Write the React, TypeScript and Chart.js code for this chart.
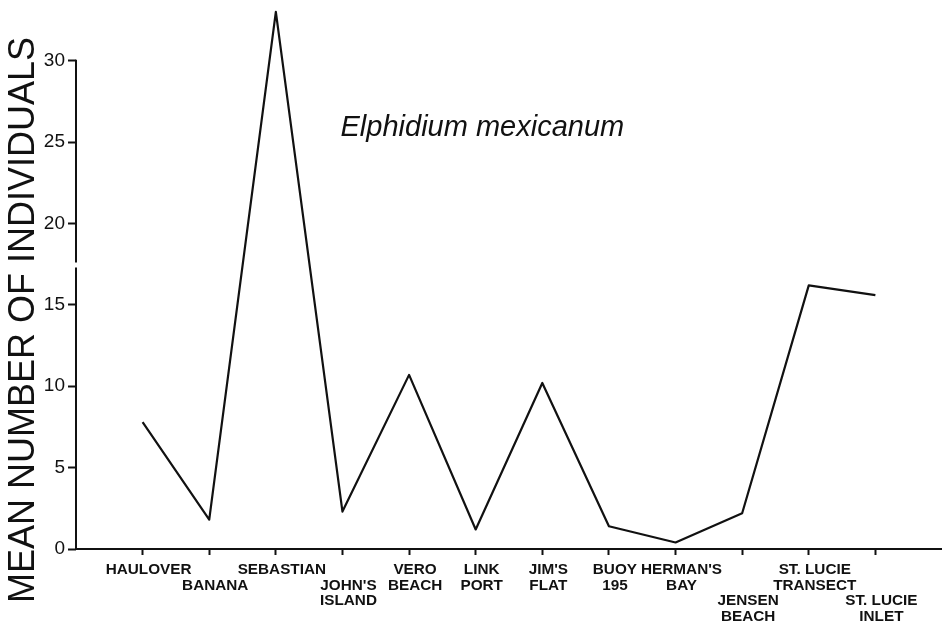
import React, { useEffect, useRef } from 'react';
import { Chart, registerables } from 'chart.js';

Chart.register(...registerables);

const stations: string[][] = [
  ['HAULOVER'],
  ['', 'BANANA'],
  ['SEBASTIAN'],
  ['', "JOHN'S", 'ISLAND'],
  ['VERO', 'BEACH'],
  ['LINK', 'PORT'],
  ["JIM'S", 'FLAT'],
  ['BUOY', '195'],
  ["HERMAN'S", 'BAY'],
  ['', '', 'JENSEN', 'BEACH'],
  ['ST. LUCIE', 'TRANSECT'],
  ['', '', 'ST. LUCIE', 'INLET'],
];
const meanIndividuals = [7.8, 1.8, 33.0, 2.3, 10.7, 1.2, 10.2, 1.4, 0.4, 2.2, 16.2, 15.6];
const yTickValues = [0, 5, 10, 15, 20, 25, 30];
const yAxisTitle = 'MEAN NUMBER OF INDIVIDUALS';
const speciesName = 'Elphidium mexicanum';

const FONT = '"Liberation Sans", Arial, sans-serif';

const decorPlugin = {
  id: 'decor',
  afterDraw(chart: any) {
    const ctx = chart.ctx;
    const ys = chart.scales.y;
    const xs = chart.scales.x;
    const ax = chart.chartArea.left;
    ctx.save();
    // y axis line with a small break
    ctx.strokeStyle = '#111';
    ctx.lineWidth = 2;
    ctx.beginPath();
    ctx.moveTo(ax, ys.getPixelForValue(0) + 1);
    ctx.lineTo(ax, ys.getPixelForValue(17.3));
    ctx.moveTo(ax, ys.getPixelForValue(17.6));
    ctx.lineTo(ax, ys.getPixelForValue(30) - 1);
    ctx.stroke();
    // y axis title
    ctx.fillStyle = '#111';
    ctx.font = `36px ${FONT}`;
    ctx.textAlign = 'center';
    ctx.textBaseline = 'middle';
    ctx.translate(24, 320);
    ctx.rotate(-Math.PI / 2);
    ctx.fillText(yAxisTitle, 0, 0);
    ctx.restore();
    // species name
    ctx.save();
    ctx.fillStyle = '#111';
    ctx.font = `italic 29px ${FONT}`;
    ctx.textAlign = 'center';
    ctx.textBaseline = 'alphabetic';
    ctx.fillText(speciesName, xs.getPixelForValue(5.1), ys.getPixelForValue(25.4));
    ctx.restore();
  },
};

export default function App() {
  const ref = useRef<HTMLCanvasElement>(null);
  useEffect(() => {
    if (!ref.current) return;
    const chart = new Chart(ref.current, {
      type: 'line',
      data: {
        datasets: [
          {
            data: meanIndividuals.map((v, i) => ({ x: i, y: v })),
            borderColor: '#111',
            borderWidth: 2.2,
            borderJoinStyle: 'round',
            pointRadius: 0,
            tension: 0,
            fill: false,
            clip: false as any,
          },
        ],
      },
      options: {
        animation: false,
        responsive: false,
        layout: { padding: 0 },
        plugins: { legend: { display: false }, tooltip: { enabled: false }, title: { display: false } },
        scales: {
          x: {
            type: 'linear',
            min: -1,
            max: 12,
            afterBuildTicks: (s: any) => {
              s.ticks = stations.map((_, i) => ({ value: i }));
            },
            afterFit: (s: any) => {
              s.height = 84;
            },
            border: { display: true, color: '#111', width: 2 },
            grid: { drawOnChartArea: false, drawTicks: true, tickLength: 6, tickWidth: 2, tickColor: '#111' },
            ticks: {
              autoSkip: false,
              maxRotation: 0,
              minRotation: 0,
              padding: 7,
              labelOffset: 6,
              color: '#111',
              font: { family: FONT, size: 15.3, weight: 'bold', lineHeight: 1.02 },
              callback: (v: any) => stations[Number(v)] ?? '',
            },
          },
          y: {
            type: 'linear',
            min: 0,
            max: 32.85,
            afterBuildTicks: (s: any) => {
              s.ticks = yTickValues.map((v) => ({ value: v }));
            },
            afterFit: (s: any) => {
              s.width = 76;
            },
            border: { display: false },
            grid: { drawOnChartArea: false, drawTicks: true, tickLength: 8, tickWidth: 2, tickColor: '#111' },
            ticks: {
              padding: 3,
              color: '#111',
              font: { family: FONT, size: 19 },
              callback: (v: any) => String(v),
            },
          },
        },
      },
      plugins: [decorPlugin],
    });
    return () => chart.destroy();
  }, []);
  return (
    <div style={{ position: 'fixed', left: 0, top: 0, width: 942, height: 633, background: '#fff' }}>
      <canvas ref={ref} width={942} height={633} style={{ display: 'block' }} />
    </div>
  );
}
